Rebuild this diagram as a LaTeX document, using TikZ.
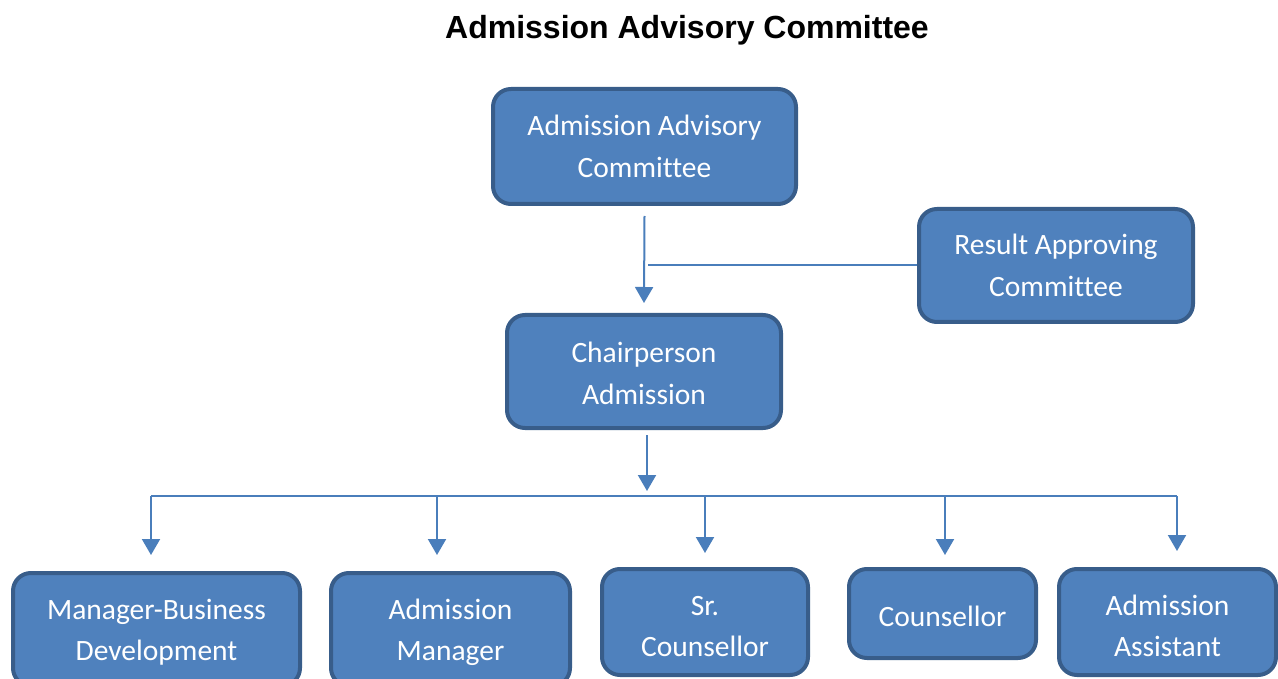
\documentclass[tikz,border=0pt]{standalone}
\usepackage{fontspec}
\setmainfont{Carlito}[Ligatures=NoCommon]
\newfontfamily\titlefont{Liberation Sans}
\usetikzlibrary{arrows.meta}
\definecolor{boxfill}{HTML}{4F81BD}
\definecolor{boxline}{HTML}{385D8A}
\definecolor{conn}{HTML}{4A7EBB}
\newcommand{\tstrut}[1]{\rule{0pt}{#1}}
\begin{document}
\begin{tikzpicture}[x=1pt,y=-1pt,
  box/.style={draw=boxline,fill=boxfill,line width=4pt,rounded corners=18pt,
    text=white,align=center,font=\fontsize{29.5}{41.5}\selectfont,inner sep=0pt},
  link/.style={draw=conn,line width=2pt},
  arr/.style={link,-{Triangle[width=18pt,length=16pt]}}]
\useasboundingbox (0,0) rectangle (1278,679);
\node[font=\titlefont\bfseries\fontsize{32}{38}\selectfont] (title) at (687,30) {Admission Advisory Committee};
\node[box,minimum width=303pt,minimum height=115pt] (aac) at (644.5,146.5) {Admission Advisory\\Committee};
\node[box,minimum width=274pt,minimum height=113pt] (rac) at (1056,265.5) {Result Approving\\Committee};
\node[box,minimum width=274pt,minimum height=113pt] (chair) at (644,371.5) {\tstrut{24pt}Chairperson\\Admission};
\node[box,minimum width=287pt,minimum height=113pt] (mbd) at (156.5,629.5) {\tstrut{26pt}Manager-Business\\Development};
\node[box,minimum width=239pt,minimum height=113pt] (am) at (450.5,629.5) {\tstrut{26pt}Admission\\Manager};
\node[box,minimum width=206pt,minimum height=106pt] (src) at (705,622) {\tstrut{28pt}Sr.\\Counsellor};
\node[box,minimum width=187pt,minimum height=89pt] (cou) at (942.5,613.5) {\tstrut{26pt}Counsellor};
\node[box,minimum width=217pt,minimum height=106pt] (aa) at (1167.5,622) {\tstrut{28pt}Admission\\Assistant};
% connectors
\coordinate (j1) at (648,265.5);
\draw[arr] ([yshift=-10pt]aac.south) -- ([yshift=10pt]chair.north);
\draw[link] (rac.west) -- (j1);
\coordinate (btip) at (647,491);
\draw[arr] ([xshift=3pt,yshift=-5pt]chair.south) -- (btip);
\coordinate (b1) at (151,496);
\coordinate (b2) at (437,496);
\coordinate (b3) at (705,496);
\coordinate (b4) at (945,496);
\coordinate (b5) at (1177,496);
\coordinate (t1) at (151,555);
\coordinate (t2) at (437,555);
\coordinate (t3) at (705,553);
\coordinate (t4) at (945,555);
\coordinate (t5) at (1177,551);
\draw[link] (b1) -- (b5);
\draw[arr] (b1) -- (t1);
\draw[arr] (b2) -- (t2);
\draw[arr] (b3) -- (t3);
\draw[arr] (b4) -- (t4);
\draw[arr] (b5) -- (t5);
\end{tikzpicture}
\end{document}
